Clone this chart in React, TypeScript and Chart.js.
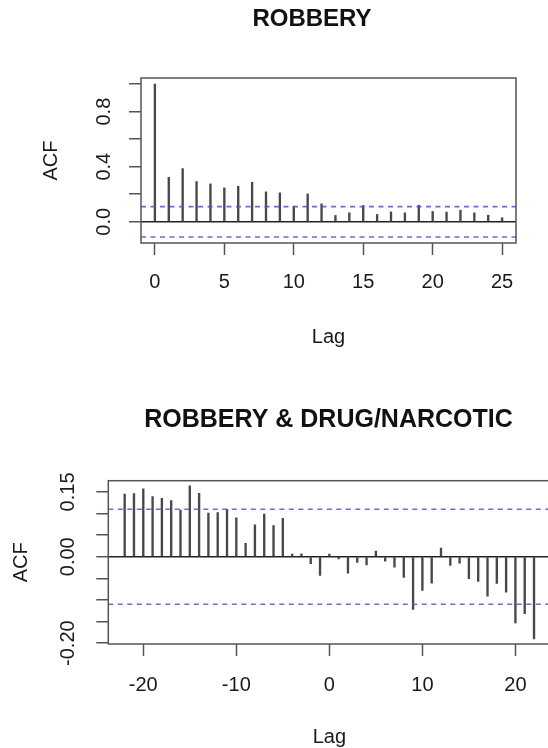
import React, { useEffect, useRef } from 'react';
import { Chart, registerables } from 'chart.js';

Chart.register(...registerables);

const FONT = '"Liberation Sans", Arial, Helvetica, sans-serif';

// ---- Top panel: ACF of ROBBERY ----
const TOP_TITLE = 'ROBBERY';
const TOP_LAGS = [0, 1, 2, 3, 4, 5, 6, 7, 8, 9, 10, 11, 12, 13, 14, 15, 16, 17, 18, 19, 20, 21, 22, 23, 24, 25];
const TOP_ACF = [1.0, 0.323, 0.386, 0.292, 0.275, 0.246, 0.258, 0.287, 0.217, 0.21, 0.113, 0.202, 0.13, 0.046, 0.065, 0.118, 0.053, 0.072, 0.065, 0.12, 0.075, 0.07, 0.084, 0.065, 0.048, 0.029];
const TOP_CI = 0.11;
const TOP_X_TICKS = [0, 5, 10, 15, 20, 25];
const TOP_Y_TICKS = [0, 0.2, 0.4, 0.6, 0.8, 1.0];
const TOP_Y_LABELED = [0, 0.4, 0.8];

// ---- Bottom panel: CCF ROBBERY & DRUG/NARCOTIC ----
const BOTTOM_TITLE = 'ROBBERY & DRUG/NARCOTIC';
const BOTTOM_LAGS = [-22, -21, -20, -19, -18, -17, -16, -15, -14, -13, -12, -11, -10, -9, -8, -7, -6, -5, -4, -3, -2, -1, 0, 1, 2, 3, 4, 5, 6, 7, 8, 9, 10, 11, 12, 13, 14, 15, 16, 17, 18, 19, 20, 21, 22];
const BOTTOM_CCF = [0.145, 0.146, 0.157, 0.139, 0.135, 0.130, 0.108, 0.164, 0.147, 0.101, 0.102, 0.110, 0.090, 0.031, 0.074, 0.099, 0.072, 0.089, 0.006, 0.007, -0.016, -0.043, 0.006, -0.005, -0.038, -0.013, -0.019, 0.013, -0.010, -0.024, -0.048, -0.122, -0.078, -0.061, 0.020, -0.020, -0.015, -0.051, -0.057, -0.091, -0.062, -0.082, -0.153, -0.132, -0.190];
const BOTTOM_CI = 0.11;
const BOTTOM_X_TICKS = [-20, -10, 0, 10, 20];
const BOTTOM_Y_TICKS = [-0.2, -0.15, -0.1, -0.05, 0, 0.05, 0.1, 0.15];
const BOTTOM_Y_LABELED = [0.15, 0, -0.2];

const rTitlePlugin = {
  id: 'rTitle',
  afterDraw(chart: any, _args: any, opts: any) {
    const ctx = chart.ctx;
    ctx.save();
    ctx.font = `bold ${opts.size}px ${FONT}`;
    ctx.fillStyle = opts.color;
    ctx.textAlign = 'center';
    ctx.textBaseline = 'middle';
    ctx.fillText(opts.text, opts.x, opts.y);
    ctx.restore();
  },
};

const rBoxPlugin = {
  id: 'rBox',
  afterDatasetsDraw(chart: any, _args: any, opts: any) {
    const { left, top, right, bottom } = chart.chartArea;
    const ctx = chart.ctx;
    ctx.save();
    ctx.strokeStyle = opts.color;
    ctx.lineWidth = opts.width;
    ctx.strokeRect(left, top, right - left, bottom - top);
    ctx.restore();
  },
};

type PanelProps = {
  title: string;
  lags: number[];
  values: number[];
  ci: number;
  xTicks: number[];
  yTicks: number[];
  yLabeled: number[];
  decimals: number;
  geo: any;
};

function AcfPanel({ title, lags, values, ci, xTicks, yTicks, yLabeled, decimals, geo }: PanelProps) {
  const ref = useRef<HTMLCanvasElement | null>(null);
  useEffect(() => {
    if (!ref.current) return;
    const textColor = '#1a1a1a';
    const tickColor = '#555';
    const ciColor = 'rgba(80,80,220,0.85)';
    const chart = new Chart(ref.current, {
      type: 'bar',
      data: {
        datasets: [
          {
            type: 'bar',
            data: lags.map((l, i) => ({ x: l, y: values[i] })),
            backgroundColor: '#484848',
            borderWidth: 0,
            barThickness: 1.7,
            order: 2,
          } as any,
          {
            type: 'line',
            data: [
              { x: geo.xMin, y: ci },
              { x: geo.xMax, y: ci },
            ],
            borderColor: ciColor,
            borderWidth: 1.6,
            borderDash: [5, 4.5],
            pointRadius: 0,
            fill: false,
            order: 1,
          } as any,
          {
            type: 'line',
            data: [
              { x: geo.xMin, y: -ci },
              { x: geo.xMax, y: -ci },
            ],
            borderColor: ciColor,
            borderWidth: 1.6,
            borderDash: [5, 4.5],
            pointRadius: 0,
            fill: false,
            order: 1,
          } as any,
        ],
      },
      options: {
        responsive: false,
        animation: false,
        devicePixelRatio: 1,
        events: [],
        layout: { padding: { top: geo.padTop, right: geo.padRight, left: 0, bottom: 0 } },
        plugins: {
          legend: { display: false },
          tooltip: { enabled: false },
          rTitle: { text: title, x: geo.titleX, y: geo.titleY, size: geo.titleSize, color: '#111' },
          rBox: { color: '#555', width: 1.5 },
        } as any,
        scales: {
          x: {
            type: 'linear',
            min: geo.xMin,
            max: geo.xMax,
            bounds: 'data',
            offset: false,
            afterBuildTicks: (s: any) => {
              s.ticks = xTicks.map((v) => ({ value: v }));
            },
            afterFit: (s: any) => {
              s.height = geo.xAxisH;
            },
            ticks: {
              autoSkip: false,
              minRotation: 0,
              maxRotation: 0,
              padding: geo.xTickPad,
              color: textColor,
              font: { size: 20, family: FONT },
              callback: (v: any) => String(v),
            },
            grid: {
              drawOnChartArea: false,
              drawTicks: true,
              tickLength: 12,
              tickColor: tickColor,
              tickWidth: 1.5,
              offset: false,
            },
            border: { display: false },
            title: {
              display: true,
              text: 'Lag',
              color: textColor,
              font: { size: 20, family: FONT },
              padding: { top: 0, bottom: geo.xTitlePad },
            },
          } as any,
          y: {
            type: 'linear',
            min: geo.yMin,
            max: geo.yMax,
            bounds: 'data',
            afterBuildTicks: (s: any) => {
              s.ticks = yTicks.map((v) => ({ value: v }));
            },
            afterFit: (s: any) => {
              s.width = geo.yAxisW;
            },
            ticks: {
              autoSkip: false,
              minRotation: 90,
              maxRotation: 90,
              crossAlign: 'center',
              padding: geo.yTickPad,
              color: textColor,
              font: { size: 20, family: FONT },
              callback: (v: any) =>
                yLabeled.some((l) => Math.abs(l - Number(v)) < 1e-9) ? Number(v).toFixed(decimals) : '',
            },
            grid: {
              drawOnChartArea: true,
              drawTicks: true,
              tickLength: 12,
              tickColor: tickColor,
              tickWidth: 1.5,
              lineWidth: 1.5,
              color: (c: any) => (c.tick && Math.abs(c.tick.value) < 1e-9 ? '#222' : 'rgba(0,0,0,0)'),
            },
            border: { display: false },
            title: {
              display: true,
              text: 'ACF',
              color: textColor,
              font: { size: 20, family: FONT },
              padding: { top: geo.yTitlePad, bottom: 0 },
            },
          } as any,
        },
      },
      plugins: [rTitlePlugin, rBoxPlugin],
    } as any);
    return () => chart.destroy();
  }, []);
  return (
    <canvas
      ref={ref}
      width={geo.canvasW}
      height={geo.canvasH}
      style={{ position: 'absolute', left: 0, top: geo.offsetTop, width: geo.canvasW, height: geo.canvasH }}
    />
  );
}

const TOP_GEO = {
  canvasW: 548, canvasH: 374, offsetTop: 0,
  padTop: 78, padRight: 32, yAxisW: 141, xAxisH: 131,
  xMin: -1, xMax: 26, yMin: -0.154, yMax: 1.044,
  titleX: 312, titleY: 19.5, titleSize: 24,
  xTickPad: 15.5, xTitlePad: 25, yTickPad: 11, yTitlePad: 39,
};

const BOTTOM_GEO = {
  canvasW: 560, canvasH: 374, offsetTop: 374,
  padTop: 106.7, padRight: 9.6, yAxisW: 108.3, xAxisH: 104,
  xMin: -23.76, xMax: 23.76, yMin: -0.202, yMax: 0.176,
  titleX: 328.5, titleY: 46, titleSize: 25,
  xTickPad: 17, xTitlePad: -1.5, yTickPad: 5.2, yTitlePad: 9,
};

export default function App() {
  return (
    <div
      style={{
        position: 'absolute',
        left: 0,
        top: 0,
        width: 548,
        height: 748,
        overflow: 'hidden',
        background: '#fff',
      }}
    >
      <AcfPanel
        title={TOP_TITLE}
        lags={TOP_LAGS}
        values={TOP_ACF}
        ci={TOP_CI}
        xTicks={TOP_X_TICKS}
        yTicks={TOP_Y_TICKS}
        yLabeled={TOP_Y_LABELED}
        decimals={1}
        geo={TOP_GEO}
      />
      <AcfPanel
        title={BOTTOM_TITLE}
        lags={BOTTOM_LAGS}
        values={BOTTOM_CCF}
        ci={BOTTOM_CI}
        xTicks={BOTTOM_X_TICKS}
        yTicks={BOTTOM_Y_TICKS}
        yLabeled={BOTTOM_Y_LABELED}
        decimals={2}
        geo={BOTTOM_GEO}
      />
    </div>
  );
}
